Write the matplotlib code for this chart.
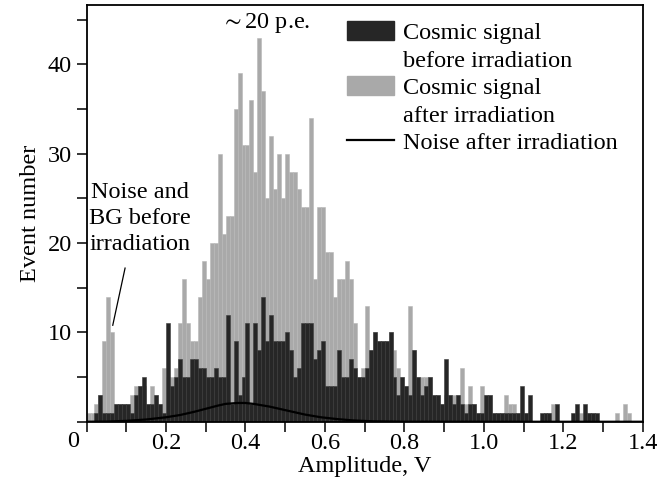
import matplotlib
matplotlib.use("Agg")
import matplotlib.pyplot as plt
import numpy as np
from matplotlib.patches import Patch
from matplotlib.lines import Line2D

plt.rcParams['font.family'] = ['Liberation Serif', 'DejaVu Serif']
plt.rcParams['mathtext.fontset'] = 'stix'

# histogram bins: 0.01 V wide, 0 .. 1.4 V
bin_width = 0.01
bin_left = np.arange(140) * bin_width

# cosmic signal after irradiation (light bars), counts per bin
after_counts = [
    1, 1, 2, 3, 9, 14, 10, 2, 2, 2,
    2, 3, 4, 4, 4, 2, 4, 3, 2, 6,
    5, 5, 6, 11, 16, 11, 9, 9, 14, 18,
    16, 20, 20, 30, 21, 23, 23, 35, 39, 31,
    31, 36, 28, 43, 37, 25, 32, 26, 30, 25,
    30, 28, 28, 26, 24, 24, 34, 16, 24, 24,
    19, 19, 14, 16, 16, 18, 16, 11, 5, 6,
    13, 8, 10, 9, 9, 9, 10, 8, 6, 5,
    4, 13, 8, 5, 5, 5, 5, 3, 3, 2,
    3, 3, 3, 3, 6, 2, 4, 2, 1, 4,
    3, 3, 1, 1, 1, 3, 2, 2, 1, 0,
    1, 0, 0, 0, 0, 1, 1, 2, 0, 0,
    0, 0, 0, 0, 1, 0, 1, 1, 0, 0,
    0, 0, 0, 1, 0, 2, 1, 0, 0, 0,
]

# cosmic signal before irradiation (dark bars), counts per bin
before_counts = [
    0, 0, 1, 3, 1, 1, 1, 2, 2, 2,
    2, 1, 3, 4, 5, 2, 2, 3, 2, 1,
    11, 4, 5, 7, 5, 5, 7, 7, 6, 6,
    5, 5, 6, 5, 5, 12, 2, 9, 3, 5,
    11, 2, 11, 8, 14, 9, 12, 9, 9, 9,
    10, 8, 5, 6, 11, 11, 11, 7, 8, 9,
    4, 4, 4, 8, 5, 5, 7, 6, 5, 5,
    6, 8, 10, 9, 9, 9, 10, 5, 3, 5,
    4, 3, 8, 5, 3, 4, 5, 3, 3, 2,
    7, 3, 2, 3, 2, 1, 2, 2, 1, 1,
    3, 3, 1, 1, 1, 1, 1, 1, 1, 4,
    1, 3, 0, 0, 1, 1, 1, 0, 2, 0,
    0, 0, 1, 2, 0, 2, 1, 1, 1, 0,
    0, 0, 0, 0, 0, 0, 0, 0, 0, 0,
]

# noise after irradiation (smooth curve)
noise_x = [0.0, 0.05, 0.10, 0.15, 0.20, 0.235, 0.27, 0.30, 0.33, 0.35, 0.38,
           0.40, 0.42, 0.46, 0.50, 0.55, 0.59, 0.63, 0.67, 0.72, 0.80, 1.4]
noise_y = [0.0, 0.02, 0.1, 0.25, 0.5, 0.75, 1.1, 1.45, 1.8, 2.0, 2.1,
           2.1, 2.0, 1.7, 1.3, 0.8, 0.5, 0.3, 0.15, 0.05, 0.0, 0.0]

fs = 17.5

fig = plt.figure(figsize=(6.58, 4.95), dpi=100)
ax = fig.add_axes([0.1315, 0.148, 0.8455, 0.841])

ax.bar(bin_left, after_counts, width=bin_width, align='edge',
       color='#a9a9a9', edgecolor='#b8b8b8', linewidth=0.4)
ax.bar(bin_left, before_counts, width=bin_width, align='edge',
       color='#262626', edgecolor='#3a3a3a', linewidth=0.4)
ax.plot(noise_x, noise_y, color='black', lw=1.6)

ax.set_xlim(0, 1.4)
ax.set_ylim(0, 46.6)
ax.set_xticks(np.arange(0, 1.41, 0.2))
ax.set_xticklabels([''] + ['%.1f' % v for v in np.arange(0.2, 1.41, 0.2)])
ax.set_xticks(np.arange(0.1, 1.4, 0.2), minor=True)
ax.set_yticks([0, 10, 20, 30, 40])
ax.set_yticklabels(['', '10', '20', '30', '40'])
ax.set_yticks([5, 15, 25, 35, 45], minor=True)
ax.tick_params(which='both', direction='out', length=7, width=1.1,
               labelsize=fs, top=False, right=False)
ax.tick_params(axis='x', pad=1)
for s in ax.spines.values():
    s.set_linewidth(1.3)

ax.annotate('0', xy=(0, 0), xycoords='axes fraction', xytext=(-10, -7),
            textcoords='offset points', ha='center', va='top', fontsize=fs)

ax.set_xlabel('Amplitude, V', fontsize=fs, labelpad=1.5)
ax.set_ylabel('Event number', fontsize=fs, labelpad=5)

ax.text(0.451, 44.6, r'$\sim$20 p.e.', ha='center', va='center', fontsize=fs)

ax.text(0.135, 26.8, 'Noise and\nBG before\nirradiation', ha='center', va='top',
        fontsize=fs, linespacing=1.3)
ax.plot([0.097, 0.066], [17.2, 10.8], color='black', lw=0.9)

handles = [Patch(facecolor='#262626', edgecolor='#262626'),
           Patch(visible=False),
           Patch(facecolor='#a9a9a9', edgecolor='#a9a9a9'),
           Patch(visible=False),
           Line2D([], [], color='black', lw=1.6)]
labels = ['Cosmic signal', 'before irradiation', 'Cosmic signal',
          'after irradiation', 'Noise after irradiation']
ax.legend(handles, labels, loc='upper right', bbox_to_anchor=(0.984, 1.0),
          frameon=False, fontsize=fs, handlelength=1.93, handleheight=0.82,
          handletextpad=0.4, labelspacing=0.19, borderaxespad=0.45,
          borderpad=0.2)

fig.savefig('out.png', dpi=100)
